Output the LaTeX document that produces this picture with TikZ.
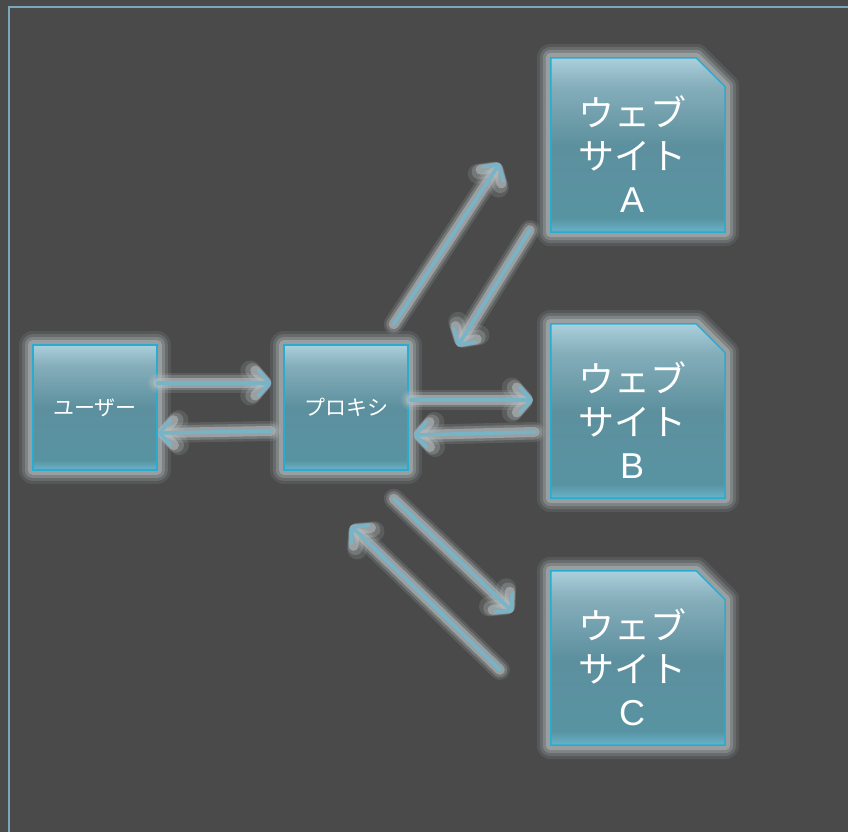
\documentclass[tikz,border=0pt]{standalone}
\usepackage{fontspec}
\setmainfont{Liberation Sans}
\newfontfamily\jp{Noto Sans CJK JP}
\usetikzlibrary{arrows.meta,calc}

\definecolor{bgc}{HTML}{4A4A4A}
\definecolor{framec}{HTML}{7AA8B8}
\definecolor{edgec}{HTML}{29ACD0}
\definecolor{haloc}{HTML}{B4BCBE}
\definecolor{linkc}{HTML}{78B4C8}
\definecolor{shtop}{HTML}{ABD0DC}
\definecolor{shupper}{HTML}{86AEBB}
\definecolor{shmid}{HTML}{5D909E}
\definecolor{shlow}{HTML}{5893A2}
\definecolor{shbot}{HTML}{68B4CA}

\pgfdeclareverticalshading{boxshade}{100bp}{color(0bp)=(shbot); color(25bp)=(shbot); color(29bp)=(shlow); color(50bp)=(shmid); color(67bp)=(shupper); color(75bp)=(shtop); color(100bp)=(shtop)}

\tikzset{
  glow/.style={preaction={draw=haloc,line width=28pt,opacity=.12,line join=round},
               preaction={draw=haloc,line width=22pt,opacity=.2,line join=round},
               preaction={draw=haloc,line width=16pt,opacity=.3,line join=round},
               preaction={draw=haloc,line width=10pt,opacity=.5,line join=round}},
  box/.style={draw=edgec,line width=1.5pt,shading=boxshade,text=white,inner sep=0pt,
              minimum width=124pt,minimum height=125pt,font=\jp\fontsize{21}{24}\selectfont,glow},
  sitespot/.style={inner sep=0pt,minimum width=174pt,minimum height=174pt},
  sitebox/.style={draw=edgec,line width=1.5pt,shading=boxshade,glow},
  sitetext/.style={text=white,align=center,font=\fontsize{36}{43}\selectfont},
  link/.style={draw=linkc,line width=3.5pt,line cap=round,line join=round,
               -{Straight Barb[round,length=11pt,width=25pt]},
               preaction={draw=haloc,line width=20pt,opacity=.16,line cap=round},
               preaction={draw=haloc,line width=15pt,opacity=.3,line cap=round},
               preaction={draw=haloc,line width=10pt,opacity=.6,line cap=round}}
}

\begin{document}
\begin{tikzpicture}[x=1pt,y=1pt]
\fill[bgc] (0,0) rectangle (848,832);
\useasboundingbox (0,0) rectangle (848,832);
\draw[framec,line width=2pt] (9,0) |- (848,825);

\node[box] (user) at (95,424.5) {ユーザー};
\node[box] (proxy) at (346,424.5) {プロキシ};

% website pages with a folded corner
\node[sitespot] (siteA) at (638,687) {};
\node[sitespot] (siteB) at (638,421) {};
\node[sitespot] (siteC) at (638,174) {};
\foreach \s in {siteA,siteB,siteC}
  \draw[sitebox] (\s.south west) -- (\s.south east) -- ([yshift=-29pt]\s.north east)
    -- ([xshift=-29pt]\s.north east) -- (\s.north west) -- cycle;
\node[sitetext] (textA) at ($(siteA)+(-6,-9)$) {{\jp ウェブ}\\{\jp サイト}\\A};
\node[sitetext] (textB) at ($(siteB)+(-6,-9)$) {{\jp ウェブ}\\{\jp サイト}\\B};
\node[sitetext] (textC) at ($(siteC)+(-6,-9)$) {{\jp ウェブ}\\{\jp サイト}\\C};

\draw[link] ($(user.east)+(0,24.5)$) -- ($(proxy.west)+(-12,24.5)$);
\draw[link] ($(proxy.west)+(-12,-23.5)$) -- ($(user.east)+(0,-25.5)$);
\draw[link] ($(proxy.east)+(2,7.5)$) -- ($(siteB.west)+(-18,11)$);
\draw[link] ($(siteB.west)+(-16,-21)$) -- ($(proxy.east)+(5,-27.5)$);
\draw[link] ($(proxy.north east)+(-15,20)$) -- ($(siteA.south west)+(-51,69)$);
\draw[link] ($(siteA.south west)+(-21,2)$) -- ($(proxy.north east)+(49,-2)$);
\draw[link] ($(proxy.south east)+(-15,-28)$) -- ($(siteC.north west)+(-38,-41)$);
\draw[link] ($(siteC.north west)+(-51,-99)$) -- ($(proxy.south east)+(-58,-55)$);
\end{tikzpicture}
\end{document}
